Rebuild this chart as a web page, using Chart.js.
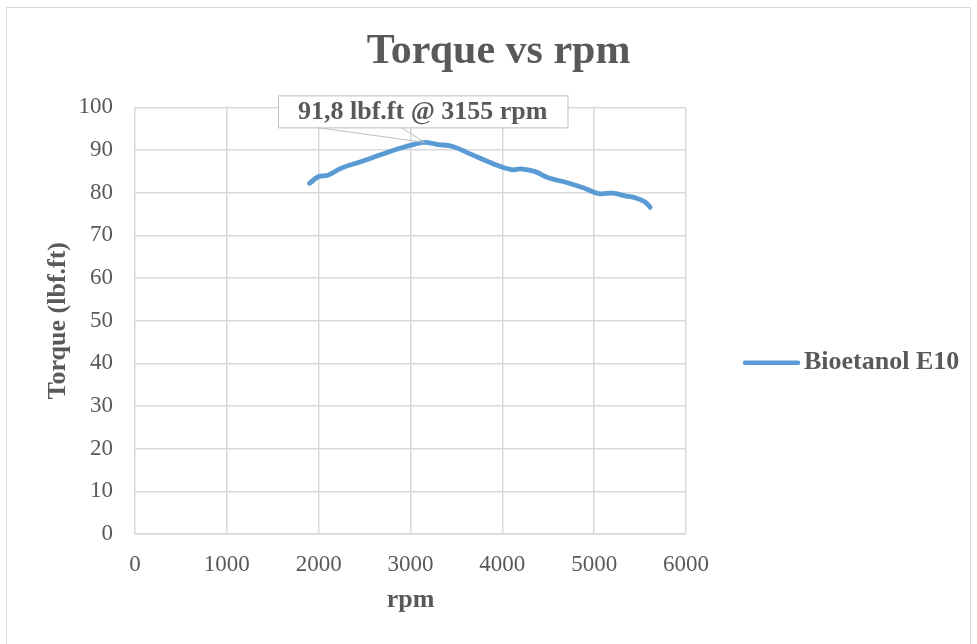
<!DOCTYPE html>
<html>
<head>
<meta charset="utf-8">
<script src="https://cdn.jsdelivr.net/npm/chart.js@4"></script>
<style>
  body { margin: 0; background: #fff; }
  #wrap { width: 977px; height: 644px; }
</style>
</head>
<body>
<div id="wrap"><canvas id="myChart" width="977" height="644"></canvas></div>
<script>
// data
var rpm = [1900, 2000, 2100, 2250, 2450, 2650, 2850, 3050, 3155, 3300, 3450, 3650, 3900, 4100, 4200, 4350, 4500, 4700, 4900, 5050, 5200, 5350, 5450, 5550, 5610];
var torque = [82.2, 83.8, 84.1, 85.8, 87.2, 88.7, 90.2, 91.4, 91.8, 91.3, 90.9, 89.1, 86.8, 85.4, 85.6, 85.0, 83.5, 82.4, 81.0, 79.8, 79.9, 79.2, 78.8, 77.9, 76.6];
var seriesName = 'Bioetanol E10';
var peakRpm = 3155;
var peakTorque = 91.8;
var peakLabel = '91,8 lbf.ft @ 3155 rpm';

var textColor = '#595959';
var gridColor = '#d9d9d9';
var lineColor = '#5b9bd5';
var serif = "'Liberation Serif', 'Times New Roman', serif";

var points = rpm.map(function (r, i) { return { x: r, y: torque[i] }; });

// white background + outer frame
var frame = {
  id: 'frame',
  beforeDraw: function (chart) {
    var c = chart.ctx;
    c.save();
    c.fillStyle = '#fff';
    c.fillRect(0, 0, chart.width, chart.height);
    c.strokeStyle = gridColor;
    c.lineWidth = 1;
    c.strokeRect(6.5, 7.5, chart.width - 13, chart.height + 10);
    c.restore();
  }
};

// legend on the right, Excel style
var sideLegend = {
  id: 'sideLegend',
  afterDraw: function (chart) {
    var c = chart.ctx;
    var area = chart.chartArea;
    var cy = (area.top + area.bottom) / 2 + 42;
    var x0 = area.right + 59;
    c.save();
    c.strokeStyle = lineColor;
    c.lineWidth = 4.5;
    c.lineCap = 'round';
    c.beginPath();
    c.moveTo(x0, cy);
    c.lineTo(x0 + 53, cy);
    c.stroke();
    c.fillStyle = textColor;
    c.font = 'bold 26px ' + serif;
    c.textBaseline = 'middle';
    c.fillText(seriesName, x0 + 59, cy);
    c.restore();
  }
};

// callout for the peak
var peakCallout = {
  id: 'peakCallout',
  afterDatasetsDraw: function (chart) {
    var c = chart.ctx;
    var px = chart.scales.x.getPixelForValue(peakRpm);
    var py = chart.scales.y.getPixelForValue(peakTorque);
    c.save();
    c.font = 'bold 26px ' + serif;
    var tw = c.measureText(peakLabel).width;
    var bw = tw + 40, bh = 32;
    var bx = px - bw / 2 - 2, by = py - 15 - bh;
    c.strokeStyle = '#bfbfbf';
    c.lineWidth = 1;
    c.beginPath();
    c.moveTo(bx + 38, by + bh);
    c.lineTo(px, py);
    c.lineTo(bx + 123, by + bh);
    c.stroke();
    c.fillStyle = '#fff';
    c.fillRect(bx, by, bw, bh);
    c.strokeRect(bx + 0.5, by + 0.5, bw, bh);
    c.fillStyle = textColor;
    c.textAlign = 'center';
    c.textBaseline = 'middle';
    c.fillText(peakLabel, bx + bw / 2, by + bh / 2 + 1);
    c.restore();
  }
};

const ctx = document.getElementById('myChart');

new Chart(ctx, {
  type: 'line',
  data: {
    datasets: [{
      label: seriesName,
      data: points,
      borderColor: lineColor,
      backgroundColor: lineColor,
      borderWidth: 4.8,
      borderCapStyle: 'round',
      borderJoinStyle: 'round',
      pointRadius: 0,
      fill: false,
      tension: 0.4
    }]
  },
  plugins: [frame, sideLegend, peakCallout],
  options: {
    responsive: false,
    animation: false,
    layout: { padding: { left: 20, right: 0, top: 0, bottom: 0 } },
    plugins: {
      legend: { display: false },
      tooltip: { enabled: false },
      title: {
        display: true,
        text: 'Torque vs rpm',
        color: textColor,
        font: { family: serif, size: 42, weight: 'bold' },
        padding: { top: 27, bottom: 30 }
      }
    },
    scales: {
      x: {
        type: 'linear',
        min: 0,
        max: 6000,
        ticks: {
          stepSize: 1000, color: textColor, padding: 17, font: { family: serif, size: 23 },
          callback: function (v) { return String(v); }
        },
        grid: { color: gridColor, lineWidth: 1.5, drawTicks: false },
        border: { color: gridColor, width: 1.5 },
        title: {
          display: true,
          text: 'rpm',
          color: textColor,
          font: { family: serif, size: 26, weight: 'bold' },
          padding: { top: 0, bottom: 28 }
        },
        afterFit: function (scale) { scale.height = 110; }
      },
      y: {
        min: 0,
        max: 100,
        ticks: { stepSize: 10, color: textColor, padding: 22, font: { family: serif, size: 23 } },
        grid: { color: gridColor, lineWidth: 1.5, drawTicks: false },
        border: { display: false },
        title: {
          display: true,
          text: 'Torque (lbf.ft)',
          color: textColor,
          font: { family: serif, size: 26, weight: 'bold' },
          padding: { top: 23, bottom: 0 }
        },
        afterFit: function (scale) { scale.width = 115; }
      },
      // empty right axis that reserves the room the legend sits in
      side: {
        position: 'right',
        min: 0,
        max: 100,
        ticks: { display: false },
        grid: { display: false, drawTicks: false },
        border: { display: false },
        afterFit: function (scale) { scale.width = 291; }
      }
    }
  }
});
</script>
</body>
</html>
